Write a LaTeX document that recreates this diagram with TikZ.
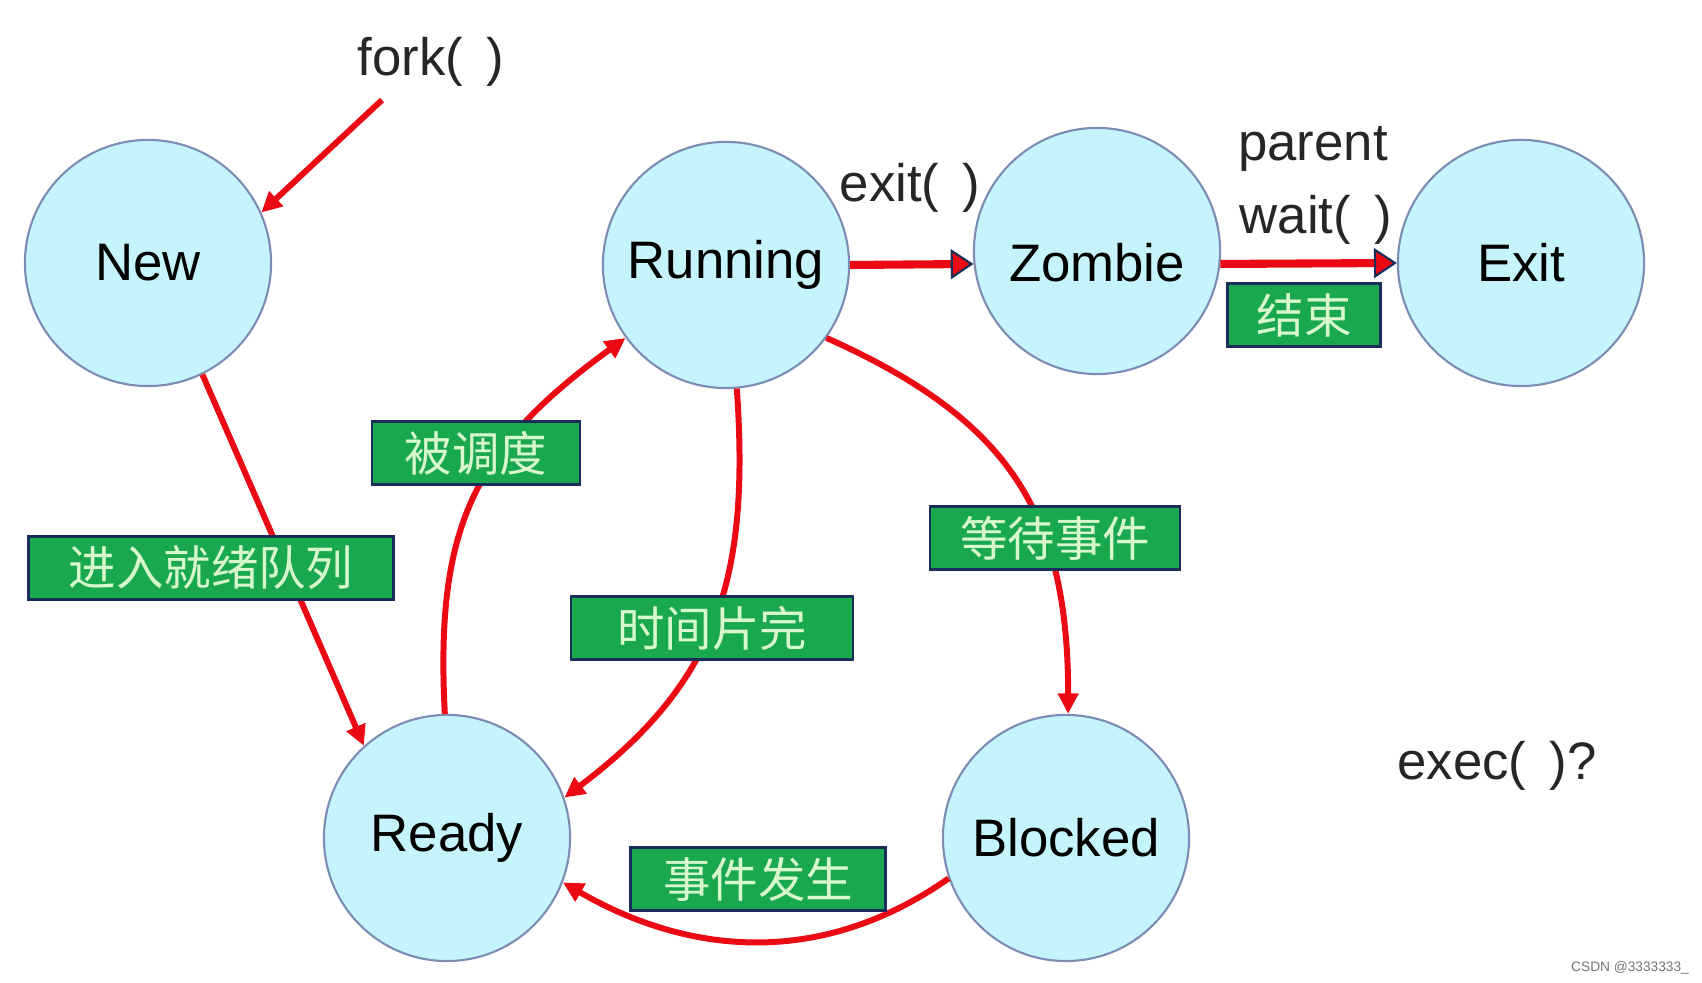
\documentclass[tikz,border=0pt]{standalone}
\usepackage{fontspec}
\setmainfont{Liberation Sans}
\newfontfamily\cjk{Noto Sans CJK SC}
\usetikzlibrary{arrows.meta}
\definecolor{statefill}{RGB}{198,244,252}
\definecolor{stateline}{RGB}{125,140,180}
\definecolor{tagfill}{RGB}{26,168,78}
\definecolor{tagline}{RGB}{25,45,90}
\definecolor{tagtext}{RGB}{214,248,204}
\definecolor{flowred}{RGB}{235,10,20}
\begin{document}
\begin{tikzpicture}[x=0.01cm,y=0.01cm,
    state/.style={circle,draw=stateline,line width=0.6pt,fill=statefill,minimum size=2.46cm,inner sep=0pt,font=\fontsize{15}{18}\selectfont},
    tag/.style={draw=tagline,line width=0.8pt,fill=tagfill,text=tagtext,minimum height=0.63cm,inner sep=0pt,font=\cjk\fontsize{13.5}{16}\selectfont},
    flow/.style={draw=flowred,line width=1.7pt,-{Triangle[length=5.8pt,width=5.6pt]}},
    bigflow/.style={draw=flowred,line width=2.3pt,-{Triangle[length=6.5pt,width=8.5pt,color=tagline,fill=flowred,line width=0.6pt]}},
    note/.style={font=\fontsize{15}{18}\selectfont,text=black!85}]
    \useasboundingbox (0,0) rectangle (1702,-983);
    \node[state] (new) at (148,-263) {New};
    \node[state] (running) at (726,-265) {Running};
    \node[state,label={[font=\fontsize{15}{18}\selectfont,yshift=-1.2mm]center:Zombie}] (zombie) at (1097,-251) {};
    \node[state] (exit) at (1521,-263) {Exit};
    \node[state] (ready) at (447,-838) {Ready};
    \node[state] (blocked) at (1066,-838) {Blocked};
    \node[note] (fork) at (431,-62) {fork(\ \,)};
    \coordinate (forkend) at (382,-100);
    \draw[flow] (forkend) -- (new.24);
    \draw[flow] (new.-64) -- (ready.132);
    \draw[flow] (ready.91) to[out=93,in=216,looseness=1.15] (running.216);
    \draw[flow] (running.-85) to[out=-86,in=37,looseness=1.1] (ready.19);
    \draw[flow] (running.-36) to[out=-24,in=90,looseness=1.15] (blocked.89);
    \draw[flow] (blocked.199) to[out=215,in=-30] (ready.-21);
    \draw[bigflow] (running.east) -- (zombie.186);
    \draw[bigflow] (zombie.-6) -- (exit.west);
    \node[tag,minimum width=3.65cm] (queue) at (211,-568) {进入就绪队列\hspace{0.22cm}};
    \node[tag,minimum width=2.08cm] (sched) at (476,-453) {被调度};
    \node[tag,minimum width=2.5cm] (waitevt) at (1055,-538) {等待事件};
    \node[tag,minimum width=2.82cm] (slice) at (712,-628) {时间片完};
    \node[tag,minimum width=2.55cm] (occur) at (758,-879) {事件发生};
    \node[tag,minimum width=1.53cm] (done) at (1304,-315) {结束};
    \node[note] (exitcall) at (910,-188) {exit(\ \,)};
    \node[note] (parent) at (1313,-149) {parent};
    \node[note] (waitcall) at (1316,-220) {wait(\ \,)};
    \node[note] (exec) at (1497,-766) {exec(\ \,)?};
    \node[font=\fontsize{3.9}{5}\selectfont,text=black!55] (csdn) at (1630,-968) {CSDN @3333333\_};
\end{tikzpicture}
\end{document}
